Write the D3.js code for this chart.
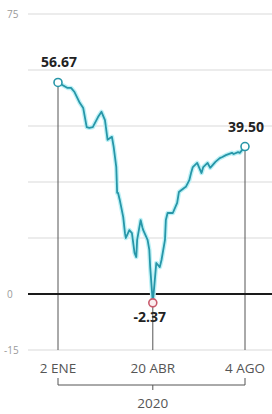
<!DOCTYPE html>
<html>
<head>
<meta charset="utf-8">
<script src="https://cdn.jsdelivr.net/npm/d3@7"></script>
<style>
  body { margin: 0; background: #fff; }
  svg { display: block; font-family: "Open Sans", "DejaVu Sans", sans-serif; }
</style>
</head>
<body>
<div id="chart"></div>
<script>
// Chart data (precio, 2020)
const dates = [
  '2020-01-02', '2020-01-13', '2020-01-17', '2020-01-21', '2020-01-27', '2020-01-31',
  '2020-02-04', '2020-02-07', '2020-02-11', '2020-02-17', '2020-02-21', '2020-02-25',
  '2020-02-28', '2020-03-04', '2020-03-06', '2020-03-09', '2020-03-10', '2020-03-11',
  '2020-03-13', '2020-03-17', '2020-03-19', '2020-03-20', '2020-03-24', '2020-03-27',
  '2020-03-30', '2020-04-01', '2020-04-02', '2020-04-06', '2020-04-08', '2020-04-09',
  '2020-04-14', '2020-04-16', '2020-04-17', '2020-04-20', '2020-04-22', '2020-04-24',
  '2020-04-28', '2020-04-30', '2020-05-04', '2020-05-05', '2020-05-07', '2020-05-13',
  '2020-05-18', '2020-05-20', '2020-05-26', '2020-05-28', '2020-06-01', '2020-06-03',
  '2020-06-05', '2020-06-10', '2020-06-15', '2020-06-17', '2020-06-22', '2020-06-25',
  '2020-07-01', '2020-07-06', '2020-07-09', '2020-07-13', '2020-07-20', '2020-07-22',
  '2020-07-27', '2020-07-29', '2020-08-04'
];
const values = [
  56.67, 55.2, 55.2, 54.1, 51.2, 49.8,
  44.7, 44.5, 44.7, 47.4, 48.8, 46.6,
  41.3, 42.1, 39.4, 34.0, 27.1, 27.1,
  25.2, 20.6, 16.3, 15.0, 17.1, 16.3,
  11.0, 9.9, 14.5, 19.8, 17.9, 17.1,
  14.5, 11.8, 7.2, -2.37, 2.9, 8.3,
  7.2, 9.1, 14.5, 19.8, 21.7, 21.7,
  24.4, 27.3, 28.4, 28.7, 30.5, 32.4,
  34.0, 35.1, 32.4, 34.0, 35.1, 33.8,
  35.4, 36.4, 36.7, 37.2, 37.8, 37.5,
  38.0, 37.8, 39.50
];
const gridValues = [75, 60, 45, 30, 15, 0, -15];
const tickLabels = [75, 0, -15];
const xTickDates = ['2020-01-02', '2020-04-20', '2020-08-04'];
const xTickLabels = ['2 ENE', '20 ABR', '4 AGO'];
const yearLabel = '2020';

const width = 272;
const height = 414;
const parse = d3.timeParse('%Y-%m-%d');

const data = dates.map((d, i) => ({ date: parse(d), value: values[i] }));

const x = d3.scaleTime()
  .domain([parse('2020-01-02'), parse('2020-08-04')])
  .range([58, 245]);

const y = d3.scaleLinear()
  .domain([-15, 75])
  .range([350, 14]);

const svg = d3.select('#chart')
  .append('svg')
  .attr('width', width)
  .attr('height', height);

// Gridlines
svg.append('g')
  .selectAll('line')
  .data(gridValues)
  .enter()
  .append('line')
  .attr('x1', 28)
  .attr('x2', width)
  .attr('y1', (d) => y(d))
  .attr('y2', (d) => y(d))
  .attr('stroke', (d) => d === 0 ? 'none' : '#d9d9d9')
  .attr('stroke-width', 1);

// Y labels
svg.append('g')
  .selectAll('text')
  .data(tickLabels)
  .enter()
  .append('text')
  .attr('x', (d) => d < 0 ? 4 : 7)
  .attr('y', (d) => y(d))
  .attr('dy', '0.35em')
  .style('font-size', '10px')
  .style('fill', '#9a9a9a')
  .text((d) => d);

// Drop lines from highlighted points
const first = data[0];
const last = data[data.length - 1];
const min = data.reduce((a, b) => (b.value < a.value ? b : a));
const marks = [first, min, last];

svg.append('g')
  .selectAll('line')
  .data(marks)
  .enter()
  .append('line')
  .attr('x1', (d) => x(d.date))
  .attr('x2', (d) => x(d.date))
  .attr('y1', (d) => y(d.value))
  .attr('y2', y(-15))
  .attr('stroke', '#555')
  .attr('stroke-width', 1);

// Zero line
svg.append('line')
  .attr('x1', 28)
  .attr('x2', width)
  .attr('y1', y(0))
  .attr('y2', y(0))
  .attr('stroke', '#1a1a1a')
  .attr('stroke-width', 2);

// Price line
const line = d3.line()
  .x((d) => x(d.date))
  .y((d) => y(d.value));

svg.append('path')
  .datum(data)
  .attr('d', line)
  .attr('fill', 'none')
  .attr('stroke', '#bdf1f6')
  .attr('stroke-width', 4.5)
  .attr('stroke-linejoin', 'round');

svg.append('path')
  .datum(data)
  .attr('d', line)
  .attr('fill', 'none')
  .attr('stroke', '#2796a8')
  .attr('stroke-width', 1.8)
  .attr('stroke-linejoin', 'round');

// Point markers
svg.append('g')
  .selectAll('circle')
  .data(marks)
  .enter()
  .append('circle')
  .attr('cx', (d) => x(d.date))
  .attr('cy', (d) => y(d.value))
  .attr('r', 4)
  .attr('fill', (d) => d === min ? '#fbeef0' : '#fff')
  .attr('stroke', (d) => d === min ? '#c95a6c' : '#2796a8')
  .attr('stroke-width', 1.6);

// Value labels
svg.append('g')
  .selectAll('text')
  .data(marks)
  .enter()
  .append('text')
  .attr('x', (d) => d === min ? x(d.date) - 3 : x(d.date) + 1)
  .attr('y', (d) => d === min ? y(d.value) + 19 : y(d.value) - 15)
  .style('text-anchor', 'middle')
  .style('font-size', '14px')
  .style('font-weight', 'bold')
  .style('fill', '#222')
  .text((d) => d.value.toFixed(2));

// X labels
svg.append('g')
  .selectAll('text')
  .data(xTickDates)
  .enter()
  .append('text')
  .attr('x', (d) => x(parse(d)))
  .attr('y', 373)
  .style('text-anchor', 'middle')
  .style('font-size', '13.5px')
  .style('fill', '#555')
  .text((d, i) => xTickLabels[i]);

// Year bracket
const bx0 = x(parse(xTickDates[0]));
const bx1 = x(parse(xTickDates[2]));
const bmid = x(parse(xTickDates[1]));
svg.append('path')
  .attr('d', 'M' + bx0 + ',378V385H' + bx1 + 'V378M' + bmid + ',385V390')
  .attr('fill', 'none')
  .attr('stroke', '#555')
  .attr('stroke-width', 1);

svg.append('text')
  .attr('x', bmid)
  .attr('y', 408)
  .style('text-anchor', 'middle')
  .style('font-size', '13.5px')
  .style('fill', '#555')
  .text(yearLabel);
</script>
</body>
</html>
